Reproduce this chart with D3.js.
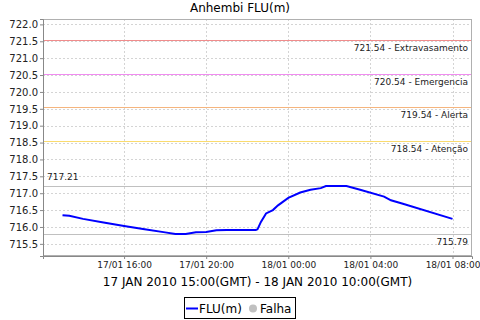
<!DOCTYPE html>
<html lang="en">
<head>
    <meta charset="UTF-8">
    <title>Anhembi FLU(m)</title>
    <script src="https://d3js.org/d3.v7.min.js"></script>
    <style>
        body { margin: 0; background: #fff; }
        text { font-family: "DejaVu Sans", sans-serif; }
    </style>
</head>
<body>
    <div id="chart"></div>

    <script>
        // Readings (local time)
        const times = ["2010-01-17 13:00", "2010-01-17 13:20", "2010-01-17 14:00", "2010-01-17 15:00",
            "2010-01-17 16:00", "2010-01-17 17:00", "2010-01-17 18:00", "2010-01-17 18:30",
            "2010-01-17 19:00", "2010-01-17 19:30", "2010-01-17 20:00", "2010-01-17 20:30",
            "2010-01-17 21:00", "2010-01-17 22:00", "2010-01-17 22:25", "2010-01-17 22:30",
            "2010-01-17 22:40", "2010-01-17 22:55", "2010-01-17 23:15", "2010-01-17 23:30",
            "2010-01-18 00:00", "2010-01-18 00:35", "2010-01-18 01:05", "2010-01-18 01:35",
            "2010-01-18 01:50", "2010-01-18 02:50", "2010-01-18 03:30", "2010-01-18 04:40",
            "2010-01-18 05:00", "2010-01-18 05:35", "2010-01-18 08:00"];
        const levels = [716.35, 716.33, 716.24, 716.13,
            716.03, 715.93, 715.84, 715.79,
            715.79, 715.84, 715.85, 715.90,
            715.91, 715.91, 715.91, 715.93,
            716.15, 716.40, 716.50, 716.64,
            716.86, 717.02, 717.10, 717.15,
            717.21, 717.21, 717.10, 716.90,
            716.79, 716.69, 716.24];

        // Alarm thresholds
        const thresholdValues = [721.54, 720.54, 719.54, 718.54];
        const thresholdNames = ["Extravasamento", "Emergencia", "Alerta", "Atenção"];
        const thresholdColors = ["#f08c8c", "#f08cf0", "#f5b57e", "#fadb6e"];

        // Max / min markers
        const maxValue = 717.21;
        const minValue = 715.79;

        const yTicks = d3.range(715.5, 722.01, 0.5);
        const xTicks = ["2010-01-17 16:00", "2010-01-17 20:00", "2010-01-18 00:00",
            "2010-01-18 04:00", "2010-01-18 08:00"];

        const title = "Anhembi FLU(m)";
        const xLabel = "17 JAN 2010 15:00(GMT) - 18 JAN 2010 10:00(GMT)";

        const W = 480, H = 320;
        const margin = { top: 19, right: 8, bottom: 64, left: 43 };
        const width = W - margin.left - margin.right;
        const height = H - margin.top - margin.bottom;

        const parse = d3.utcParse("%Y-%m-%d %H:%M");
        const data = times.map((t, i) => ({ date: parse(t), value: levels[i] }));

        const svgRoot = d3.select("#chart").append("svg")
            .attr("width", W).attr("height", H);

        svgRoot.append("text")
            .attr("x", W / 2).attr("y", 12)
            .attr("text-anchor", "middle")
            .style("font-size", "12px")
            .text(title);

        const svg = svgRoot.append("g")
            .attr("transform", `translate(${margin.left},${margin.top})`);

        const x = d3.scaleUtc()
            .domain([parse("2010-01-17 12:03"), parse("2010-01-18 08:57")])
            .range([0, width]);

        const y = d3.scaleLinear()
            .domain([715.14, 722.16])
            .range([height, 0]);

        const crisp = v => Math.round(v) + 0.5;

        // Grid
        const grid = svg.append("g").attr("stroke", "#d4d4d4").attr("stroke-dasharray", "2,2");
        grid.selectAll(".gy").data(yTicks).enter().append("line")
            .attr("x1", 0).attr("x2", width)
            .attr("y1", d => crisp(y(d))).attr("y2", d => crisp(y(d)));
        grid.selectAll(".gx").data(xTicks).enter().append("line")
            .attr("y1", 0).attr("y2", height)
            .attr("x1", d => crisp(x(parse(d)))).attr("x2", d => crisp(x(parse(d))));

        // Threshold lines
        svg.selectAll(".thr").data(thresholdValues).enter().append("line")
            .attr("x1", 0).attr("x2", width)
            .attr("y1", d => crisp(y(d))).attr("y2", d => crisp(y(d)))
            .attr("stroke", (d, i) => thresholdColors[i])
            .attr("stroke-width", 1);
        svg.selectAll(".thrLabel").data(thresholdValues).enter().append("text")
            .attr("x", width - 4).attr("y", d => y(d) + 11)
            .attr("text-anchor", "end")
            .style("font-size", "9px")
            .attr("fill", "#222")
            .text((d, i) => d.toFixed(2) + " - " + thresholdNames[i]);

        // Max / min lines
        svg.selectAll(".mm").data([maxValue, minValue]).enter().append("line")
            .attr("x1", 0).attr("x2", width)
            .attr("y1", d => crisp(y(d))).attr("y2", d => crisp(y(d)))
            .attr("stroke", "#c0c0c0").attr("stroke-width", 1);
        svg.append("text")
            .attr("x", 4).attr("y", y(maxValue) - 6)
            .style("font-size", "9px").attr("fill", "#222")
            .text(maxValue.toFixed(2));
        svg.append("text")
            .attr("x", width - 4).attr("y", y(minValue) + 11)
            .attr("text-anchor", "end")
            .style("font-size", "9px").attr("fill", "#222")
            .text(minValue.toFixed(2));

        // Series
        const line = d3.line()
            .x(d => x(d.date))
            .y(d => y(d.value));
        svg.append("path")
            .datum(data)
            .attr("fill", "none")
            .attr("stroke", "#0000ff")
            .attr("stroke-width", 2)
            .attr("d", line);

        // Plot border
        svg.append("rect")
            .attr("x", 0.5).attr("y", 0.5)
            .attr("width", width - 1).attr("height", height - 1)
            .attr("fill", "none").attr("stroke", "#b0b0b0");

        // Axes
        const yAxis = svg.append("g")
            .call(d3.axisLeft(y).tickValues(yTicks).tickFormat(d3.format(".1f")).tickSize(3).tickPadding(2));
        yAxis.select(".domain").attr("stroke", "#888");
        yAxis.selectAll(".tick line").attr("stroke", "#888");
        yAxis.selectAll("text").style("font-size", "10px").attr("fill", "#222")
            .style("font-family", "DejaVu Sans, sans-serif");

        const xAxis = svg.append("g")
            .attr("transform", `translate(0,${height})`)
            .call(d3.axisBottom(x).tickValues(xTicks.map(parse))
                .tickFormat(d3.utcFormat("%d/%m %H:%M")).tickSize(3).tickPadding(3));
        xAxis.select(".domain").attr("stroke", "#888");
        xAxis.selectAll(".tick line").attr("stroke", "#888");
        xAxis.selectAll("text").style("font-size", "9px").attr("fill", "#222")
            .style("font-family", "DejaVu Sans, sans-serif");

        svg.append("text")
            .attr("x", width / 2).attr("y", height + 30)
            .attr("text-anchor", "middle")
            .style("font-size", "12px")
            .text(xLabel);

        // Legend
        const lg = svgRoot.append("g").attr("transform", "translate(184,297)");
        lg.append("rect").attr("x", 0.5).attr("y", 0.5).attr("width", 111).attr("height", 21)
            .attr("fill", "#fff").attr("stroke", "#000");
        lg.append("line").attr("x1", 2).attr("x2", 14).attr("y1", 11.5).attr("y2", 11.5)
            .attr("stroke", "#0000ff").attr("stroke-width", 2);
        lg.append("text").attr("x", 15).attr("y", 16).style("font-size", "12px").text("FLU(m)");
        lg.append("circle").attr("cx", 69).attr("cy", 11.5).attr("r", 4).attr("fill", "#c0c0c0");
        lg.append("text").attr("x", 76).attr("y", 16).style("font-size", "12px").text("Falha");
    </script>
</body>
</html>
